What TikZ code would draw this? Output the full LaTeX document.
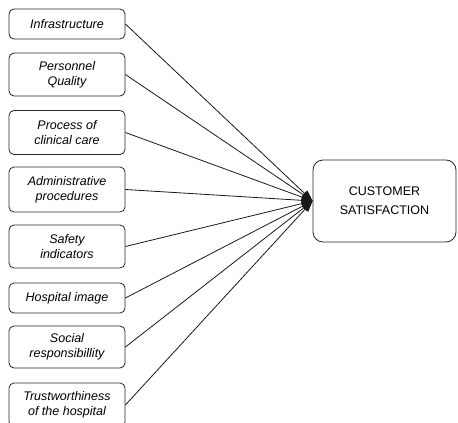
\documentclass[tikz,border=0pt]{standalone}
\usepackage{fontspec}
\setmainfont{Liberation Sans}
\usetikzlibrary{arrows.meta}
\begin{document}
\begin{tikzpicture}[x=1pt,y=-1pt,
  factor/.style={draw=black!85, line width=0.8pt, rounded corners=5pt, minimum width=116pt, inner sep=0pt, align=center, font=\fontsize{12.5}{15}\selectfont\itshape},
  target/.style={draw=black!85, line width=0.8pt, rounded corners=10pt, minimum width=143pt, minimum height=82pt, inner sep=0pt, font=\fontsize{12.5}{19}\selectfont},
  conn/.style={draw=black!90, line width=0.8pt, -{Triangle[length=11pt,width=8pt]}}]
\useasboundingbox (0,0) rectangle (458,423);
\node[factor, minimum height=30pt] (a1) at (67,24) {Infrastructure};
\node[factor, minimum height=43pt] (a2) at (67,74.5) {Personnel\\Quality};
\node[factor, minimum height=44pt] (a3) at (67,132.5) {Process of\\clinical care};
\node[factor, minimum height=45pt] (a4) at (67,189.5) {Administrative\\procedures};
\node[factor, minimum height=43pt] (a5) at (67,246.5) {Safety\\indicators};
\node[factor, minimum height=30pt] (a6) at (67,298) {Hospital image};
\node[factor, minimum height=42pt] (a7) at (67,347) {Social\\responsibillity};
\node[factor, minimum height=44pt] (a8) at (67,405) {Trustworthiness\\of the hospital};
\node[target] (cs) at (384.5,201) {\raisebox{-4pt}{\begin{tabular}{@{}c@{}}CUSTOMER\\SATISFACTION\end{tabular}}};
\foreach \i in {1,...,8} {
  \draw[conn] (a\i.east) -- (cs.west);
}
\end{tikzpicture}
\end{document}
